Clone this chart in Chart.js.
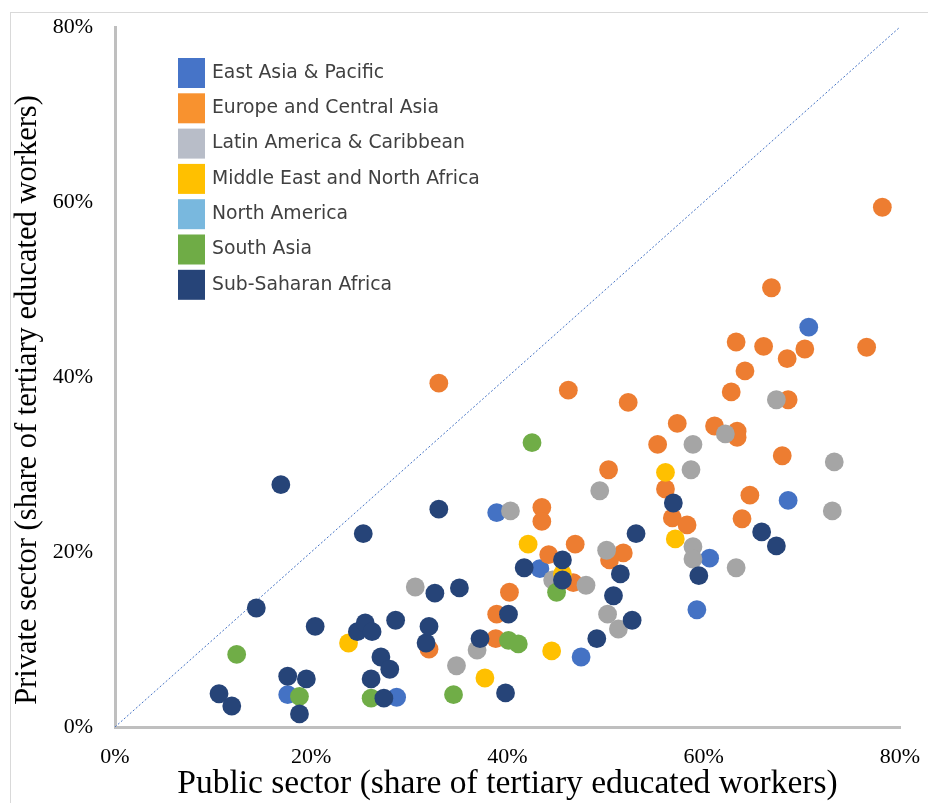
<!DOCTYPE html>
<html>
<head>
<meta charset="utf-8">
<script src="https://cdn.jsdelivr.net/npm/chart.js@4.4.1/dist/chart.umd.min.js"></script>
<style>
  html, body { margin: 0; padding: 0; background: #fff; overflow: hidden; }
  #wrap { position: relative; width: 928px; height: 803px; overflow: hidden; }
  #frame { position: absolute; left: 10px; top: 12px; width: 940px; height: 820px;
           border: 1px solid #d9d9d9; box-sizing: border-box; }
  canvas { position: absolute; left: 0; top: 0; }
</style>
</head>
<body>
<div id="wrap">
  <div id="frame"></div>
  <canvas id="chart" width="928" height="803"></canvas>
</div>
<script>
// Regions (legend order)
const regions = [
  'East Asia & Pacific',
  'Europe and Central Asia',
  'Latin America & Caribbean',
  'Middle East and North Africa',
  'North America',
  'South Asia',
  'Sub-Saharan Africa'
];

// Share of tertiary educated workers, [public %, private %] per country
const eastAsiaPacific = [
  [17.6, 3.7], [28.7, 3.4], [38.9, 24.5], [43.3, 18.1], [47.5, 8.0],
  [59.3, 13.4], [60.6, 19.3], [68.6, 25.9], [70.7, 45.7]
];
const europeCentralAsia = [
  [33.0, 39.3], [46.2, 38.5], [52.3, 37.1], [57.3, 34.7], [55.3, 32.3],
  [50.3, 29.4], [56.1, 27.2], [43.5, 25.1], [43.5, 23.5], [46.9, 20.9],
  [44.2, 19.7], [46.7, 16.5], [40.2, 15.4], [38.9, 12.9], [38.8, 10.1],
  [32.0, 8.9], [51.8, 19.9], [50.4, 19.1], [56.8, 23.9], [58.3, 23.1],
  [64.7, 26.5], [63.9, 23.8], [68.0, 31.0], [61.1, 34.4], [63.4, 33.8],
  [63.4, 33.1], [62.8, 38.3], [64.2, 40.7], [63.3, 44.0], [66.1, 43.5],
  [68.5, 42.1], [70.3, 43.2], [68.6, 37.4], [66.9, 50.2], [76.6, 43.4],
  [78.2, 59.4]
];
const latinAmericaCaribbean = [
  [30.6, 16.0], [34.8, 7.0], [36.9, 8.8], [40.3, 24.7], [44.6, 16.8],
  [48.0, 16.2], [49.4, 27.0], [50.1, 20.2], [50.2, 12.9], [51.3, 11.2],
  [58.9, 32.3], [58.7, 29.4], [58.9, 20.6], [58.9, 19.2], [62.2, 33.5],
  [63.3, 18.2], [67.4, 37.4], [73.1, 24.7], [73.3, 30.3]
];
const middleEastNorthAfrica = [
  [23.8, 9.6], [37.7, 5.6], [42.1, 20.9], [44.5, 8.7], [45.6, 17.5],
  [56.1, 29.1], [57.1, 21.5]
];
const northAmerica = [];
const southAsia = [
  [12.4, 8.3], [18.8, 3.5], [26.1, 3.3], [34.5, 3.7], [40.1, 9.9],
  [41.1, 9.5], [45.0, 15.4], [42.5, 32.5]
];
const subSaharanAfrica = [
  [10.6, 3.8], [11.9, 2.4], [14.4, 13.6], [16.9, 27.7], [17.6, 5.8],
  [19.5, 5.5], [18.8, 1.5], [20.4, 11.5], [25.3, 22.1], [24.7, 10.9],
  [25.5, 11.9], [26.2, 10.9], [26.1, 5.5], [27.1, 8.0], [28.0, 6.6],
  [27.4, 3.3], [28.6, 12.2], [31.7, 9.6], [32.0, 11.5], [32.6, 15.3],
  [33.0, 24.9], [35.1, 15.9], [37.2, 10.1], [39.8, 3.9], [40.1, 12.9],
  [41.7, 18.2], [45.6, 19.1], [45.6, 16.8], [49.1, 10.1], [50.8, 15.0],
  [51.5, 17.5], [52.7, 12.2], [53.1, 22.1], [56.9, 25.6], [59.5, 17.3],
  [65.9, 22.3], [67.4, 20.7]
];

// Parity reference line (public share = private share)
const parityLine = [[0, 0], [80, 80]];

// Axis tick values
const tickValues = [0, 20, 40, 60, 80];

const xTitle = 'Public sector (share of tertiary educated workers)';
const yTitle = 'Private sector (share of tertiary educated workers)';

const seriesData = [
  eastAsiaPacific, europeCentralAsia, latinAmericaCaribbean,
  middleEastNorthAfrica, northAmerica, southAsia, subSaharanAfrica
];
const pointColors = ['#4472C4', '#ED7D31', '#A5A5A5', '#FFC000', '#5B9BD5', '#70AD47', '#264478'];
const swatchColors = ['#4674C8', '#F8922F', '#B8BDC8', '#FFC000', '#79B8DE', '#6FAC46', '#264478'];

const serif = '"Liberation Serif", "Times New Roman", serif';
const toPoints = arr => arr.map(([x, y]) => ({ x, y }));

const datasets = seriesData.map((arr, i) => ({
  label: regions[i],
  data: toPoints(arr),
  backgroundColor: pointColors[i],
  borderColor: pointColors[i],
  borderWidth: 0,
  pointRadius: 9.4,
  pointHoverRadius: 9.4,
  order: seriesData.length - i   // later regions sit on top
}));

datasets.push({
  type: 'line',
  label: 'parity',
  data: toPoints(parityLine),
  borderColor: '#4472C4',
  borderWidth: 1,
  borderDash: [2, 2],
  pointRadius: 0,
  fill: false,
  order: 100
});

// Boxed legend inside the plot area, plus the rotated y-axis title
const annotations = {
  id: 'annotations',
  afterDraw(chart) {
    const ctx = chart.ctx;
    ctx.save();
    ctx.font = '18.8px "DejaVu Sans", sans-serif';
    ctx.textBaseline = 'middle';
    ctx.textAlign = 'left';
    regions.forEach((name, i) => {
      const y = 58 + i * 35.3;
      ctx.fillStyle = swatchColors[i];
      ctx.fillRect(178, y, 27, 30);
      ctx.fillStyle = '#404040';
      ctx.fillText(name, 212, y + 15);
    });
    ctx.restore();

    ctx.save();
    ctx.translate(28, 400);
    ctx.rotate(-Math.PI / 2);
    ctx.font = '30.5px ' + serif;
    ctx.fillStyle = '#000';
    ctx.textAlign = 'center';
    ctx.textBaseline = 'middle';
    ctx.fillText(yTitle, 0, 0);
    ctx.restore();
  }
};

new Chart(document.getElementById('chart'), {
  type: 'scatter',
  data: { datasets },
  options: {
    responsive: false,
    devicePixelRatio: 1,
    animation: false,
    layout: { padding: { top: 27, right: 28, left: 0, bottom: 0 } },
    plugins: { legend: { display: false }, tooltip: { enabled: false } },
    scales: {
      x: {
        type: 'linear', min: 0, max: 80,
        afterBuildTicks: s => { s.ticks = tickValues.map(v => ({ value: v })); },
        // tall line box keeps the labels clear of the axis line
        ticks: { callback: v => v + '%', font: { family: serif, size: 22, lineHeight: '60px' },
                 color: '#000', padding: 0, maxRotation: 0 },
        grid: { display: false, drawTicks: false },
        border: { color: '#BFBFBF', width: 3 },
        title: {
          display: true,
          text: xTitle,
          font: { family: serif, size: 33.5, lineHeight: 1.1 },
          color: '#000',
          padding: { top: 0, bottom: 0 }
        },
        afterFit: s => { s.height = 76; }
      },
      y: {
        type: 'linear', min: 0, max: 80,
        afterBuildTicks: s => { s.ticks = tickValues.map(v => ({ value: v })); },
        ticks: { callback: v => v + '%', font: { family: serif, size: 22, lineHeight: 0.4 },
                 color: '#000', padding: 22 },
        grid: { display: false, drawTicks: false },
        border: { color: '#BFBFBF', width: 3 },
        title: { display: false },
        afterFit: s => { s.width = 115; }
      }
    }
  },
  plugins: [annotations]
});
</script>
</body>
</html>
